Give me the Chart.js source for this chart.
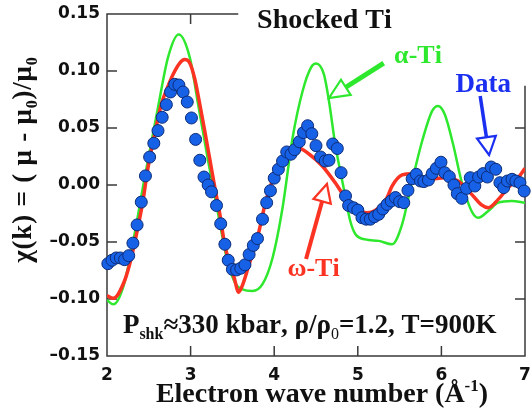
<!DOCTYPE html>
<html>
<head>
<meta charset="utf-8">
<script src="https://cdn.jsdelivr.net/npm/chart.js@4.4.1/dist/chart.umd.min.js"></script>
<style>
  html, body { margin: 0; padding: 0; background: #fff; }
  canvas { display: block; }
</style>
</head>
<body>
<canvas id="chart" width="532" height="420"></canvas>
<script>
// measured EXAFS points (k in 1/Å, chi)
const dataK = [2.01, 2.06, 2.11, 2.16, 2.21, 2.26, 2.31, 2.36, 2.41, 2.46, 2.51, 2.56, 2.61, 2.66, 2.71, 2.76, 2.81, 2.86, 2.91, 2.96, 3.01, 3.06, 3.11, 3.16, 3.21,
  3.25, 3.31, 3.36, 3.41, 3.45, 3.50, 3.55, 3.60, 3.65, 3.70, 3.75, 3.80, 3.86, 3.91, 3.955, 4.00, 4.05, 4.10, 4.15, 4.20, 4.245, 4.30, 4.35, 4.40, 4.45, 4.50, 4.555, 4.61, 4.655, 4.70, 4.755, 4.80, 4.853, 4.89, 4.95, 5.00,
  5.05, 5.10, 5.15, 5.20, 5.25, 5.30, 5.35, 5.40, 5.45, 5.50, 5.55, 5.60, 5.65, 5.70, 5.75,
  5.79, 5.845, 5.89, 5.94, 5.995, 6.04, 6.095, 6.15, 6.19, 6.245, 6.30, 6.345, 6.40, 6.445, 6.50, 6.55, 6.595, 6.65, 6.70, 6.745, 6.79, 6.845, 6.89, 6.94, 6.99];
const dataChi = [-0.069, -0.066, -0.064, -0.064, -0.0655, -0.062, -0.051, -0.035, -0.015, 0.008, 0.0245, 0.0366, 0.0477, 0.0594, 0.0705, 0.0816, 0.0883, 0.0877, 0.0816, 0.0728, 0.0588, 0.040, 0.0217, 0.007, 0.000,
  -0.006, -0.018, -0.034, -0.052, -0.066, -0.074, -0.0745, -0.073, -0.070, -0.061, -0.053, -0.047, -0.030, -0.0155, -0.005, 0.006, 0.0138, 0.021, 0.029, 0.027, 0.031, 0.038, 0.046, 0.052, 0.045, 0.0345, 0.0246, 0.021, 0.0217, 0.036, 0.032, 0.0108, -0.0096, -0.018, -0.020, -0.022,
  -0.0287, -0.030, -0.030, -0.0278, -0.0257, -0.021, -0.017, -0.014, -0.011, -0.0146, -0.0155, -0.0047, 0.0055, 0.0094, 0.0035,
  0.003, 0.0044, 0.010, 0.0146, 0.020, 0.0108, 0.0073, 0.000, -0.0076, -0.0117, -0.003, 0.0064, -0.0009, 0.007, 0.010, 0.007, 0.0158, 0.0138, 0.002, -0.0023, 0.0035, 0.005, 0.0035, 0.002, -0.0053];

// omega-Ti model
const omegaK = [2.00, 2.075, 2.21, 2.29, 2.37, 2.43, 2.49, 2.57, 2.65, 2.73, 2.79, 2.87, 2.93, 2.99, 3.05, 3.11, 3.17, 3.23, 3.29, 3.35,
  3.40, 3.46, 3.52, 3.575, 3.62, 3.70, 3.80, 3.90, 3.96, 4.02, 4.14, 4.28, 4.42, 4.575, 4.73, 4.85, 4.97, 5.11, 5.25, 5.35,
  5.41, 5.53, 5.65, 5.85, 6.04, 6.20, 6.36, 6.48, 6.56, 6.68, 6.80, 6.92, 7.00];
const omegaChi = [-0.097, -0.0994, -0.084, -0.064, -0.037, -0.014, 0.015, 0.0445, 0.0708, 0.0868, 0.097, 0.107, 0.110, 0.107, 0.093, 0.0708, 0.047, 0.0225, -0.0023, -0.0257,
  -0.049, -0.068, -0.081, -0.094, -0.088, -0.0696, -0.046, -0.014, 0.000, 0.0123, 0.027, 0.0327, 0.027, 0.0167, 0.002, -0.011, -0.020, -0.0243, -0.020, -0.011,
  -0.001, 0.0088, 0.0099, 0.005, 0.0064, 0.0035, -0.008, -0.0175, -0.020, -0.0126, -0.0023, 0.0064, 0.0146];

// alpha-Ti model
const alphaK = [2.00, 2.075, 2.20, 2.33, 2.45, 2.61, 2.73, 2.857, 2.99, 3.09, 3.21, 3.33, 3.44, 3.54, 3.62, 3.74, 3.86, 3.98, 4.10, 4.22,
  4.34, 4.44, 4.50, 4.595, 4.655, 4.73, 4.83, 4.91, 4.97, 5.09, 5.25, 5.41, 5.53, 5.65, 5.77, 5.89, 5.96, 6.04, 6.14, 6.24,
  6.36, 6.44, 6.56, 6.68, 6.84, 7.00];
const alphaChi = [-0.101, -0.1047, -0.088, -0.043, 0.0064, 0.068, 0.112, 0.132, 0.112, 0.0708, 0.021, -0.0257, -0.0667, -0.087, -0.0915, -0.093, -0.087, -0.064, -0.020, 0.0415,
  0.0825, 0.103, 0.1065, 0.097, 0.0737, 0.0357, -0.0023, -0.0316, -0.043, -0.0477, -0.049, -0.052, -0.0345, 0.0035, 0.0386, 0.065, 0.0693, 0.062, 0.0357, 0.0035,
  -0.0228, -0.0287, -0.0228, -0.0155, -0.014, -0.0155];

const xTicks = [2, 3, 4, 5, 6, 7];
const xTickLabels = ['2', '3', '4', '5', '6', '7'];
const yTicks = [-0.15, -0.10, -0.05, 0, 0.05, 0.10, 0.15];
const yTickLabels = ['\u20130.15', '\u20130.10', '\u20130.05', '0.00', '0.05', '0.10', '0.15'];

const SERIF = '"Liberation Serif", "Times New Roman", serif';
const SANS = '"DejaVu Sans", sans-serif';
const RED = '#fb3322';
const GREEN = '#2ee82e';
const BLUE_TXT = '#1b2ff0';

const toPoints = (xs, ys) => xs.map((k, i) => ({ x: k, y: ys[i] }));

// draws text made of runs (normal / sub / sup), char by char with optional extra spacing
function drawRich(ctx, parts, x, y, size, color, align, spacing) {
  spacing = spacing || 0;
  const glyphs = [];
  parts.forEach(p => {
    const small = p.sub || p.sup;
    const s = small ? Math.round(size * 0.6) : size;
    const font = (p.light ? '' : 'bold ') + s + 'px ' + SERIF;
    ctx.font = font;
    const dy = p.sub ? size * 0.22 : (p.sup ? -size * 0.38 : 0);
    [...p.t].forEach(c => glyphs.push({ c, font, dy, w: ctx.measureText(c).width }));
  });
  const total = glyphs.reduce((a, g) => a + g.w, 0) + spacing * (glyphs.length - 1);
  let cx = align === 'center' ? x - total / 2 : x;
  ctx.fillStyle = color;
  ctx.textBaseline = 'alphabetic';
  ctx.textAlign = 'left';
  glyphs.forEach(g => {
    ctx.font = g.font;
    ctx.fillText(g.c, cx, y + g.dy);
    cx += g.w + spacing;
  });
}

function hollowArrow(ctx, x0, y0, x1, y1, color, shaftW, headLen, headHalf) {
  const ang = Math.atan2(y1 - y0, x1 - x0);
  const bx = x1 - headLen * Math.cos(ang), by = y1 - headLen * Math.sin(ang);
  ctx.save();
  ctx.strokeStyle = color;
  ctx.lineCap = 'butt';
  ctx.lineWidth = shaftW;
  ctx.beginPath();
  ctx.moveTo(x0, y0);
  ctx.lineTo(bx, by);
  ctx.stroke();
  const nx = -Math.sin(ang), ny = Math.cos(ang);
  ctx.beginPath();
  ctx.moveTo(x1, y1);
  ctx.lineTo(bx + nx * headHalf, by + ny * headHalf);
  ctx.lineTo(bx - nx * headHalf, by - ny * headHalf);
  ctx.closePath();
  ctx.fillStyle = '#fff';
  ctx.fill();
  ctx.lineWidth = 2.2;
  ctx.lineJoin = 'miter';
  ctx.stroke();
  ctx.restore();
}

// axes frame with inward ticks; top line and right line are broken by the labels
const framePlugin = {
  id: 'frame',
  beforeDatasetsDraw(chart) {
    const { ctx, chartArea: a, scales: { x, y } } = chart;
    const topEnd = x.getPixelForValue(3.57);
    const rightStart = y.getPixelForValue(0.087);
    ctx.save();
    ctx.strokeStyle = '#3a3a3a';
    ctx.lineWidth = 1.5;
    ctx.beginPath();
    ctx.moveTo(topEnd, a.top);
    ctx.lineTo(a.left, a.top);
    ctx.lineTo(a.left, a.bottom);
    ctx.lineTo(a.right, a.bottom);
    ctx.lineTo(a.right, rightStart);
    xTicks.slice(1, -1).forEach(v => {
      const px = x.getPixelForValue(v);
      ctx.moveTo(px, a.bottom);
      ctx.lineTo(px, a.bottom - 10);
      if (px < topEnd) {
        ctx.moveTo(px, a.top);
        ctx.lineTo(px, a.top + 10);
      }
    });
    yTicks.slice(1, -1).forEach(v => {
      const py = y.getPixelForValue(v);
      ctx.moveTo(a.left, py);
      ctx.lineTo(a.left + 10, py);
      if (py > rightStart) {
        ctx.moveTo(a.right, py);
        ctx.lineTo(a.right - 10, py);
      }
    });
    ctx.stroke();
    ctx.restore();
  }
};

const labelPlugin = {
  id: 'labels',
  afterDatasetsDraw(chart) {
    const { ctx, scales: { x, y } } = chart;
    const X = v => x.getPixelForValue(v), Y = v => y.getPixelForValue(v);
    ctx.save();
    drawRich(ctx, [{ t: 'Shocked Ti' }], X(4.6), Y(0.138), 28, '#111', 'center');
    drawRich(ctx, [{ t: '\u03b1-Ti' }], X(5.72), Y(0.107), 26, GREEN, 'center');
    drawRich(ctx, [{ t: 'Data' }], X(6.5), Y(0.0816), 27, BLUE_TXT, 'center');
    drawRich(ctx, [{ t: '\u03c9-Ti' }], X(4.47), Y(-0.0798), 26, RED, 'center');
    hollowArrow(ctx, X(5.31), Y(0.107), X(4.655), Y(0.0763), GREEN, 5, 20, 9);
    hollowArrow(ctx, X(6.464), Y(0.078), X(6.571), Y(0.0263), BLUE_TXT, 3.5, 18, 9.5);
    hollowArrow(ctx, X(4.381), Y(-0.0649), X(4.631), Y(0.0009), RED, 4, 18, 9);
    drawRich(ctx, [
      { t: 'P' }, { t: 'shk', sub: true }, { t: '\u2248330 kbar, \u03c1/\u03c1' }, { t: '0', sub: true, light: true },
      { t: '=1.2, T=900K' }
    ], X(2.19), Y(-0.1298), 27, '#111', 'left');
    ctx.restore();
  },
  afterDraw(chart) {
    const { ctx, chartArea: a } = chart;
    ctx.save();
    // x axis title
    drawRich(ctx, [{ t: 'Electron wave number (\u00c5' }, { t: '-1', sup: true }, { t: ')' }],
      (a.left + a.right) / 2 + 6, 402, 28, '#111', 'center');
    // y axis title
    ctx.translate(31, 160);
    ctx.rotate(-Math.PI / 2);
    drawRich(ctx, [{ t: '\u03c7(k) = ( \u03bc - \u03bc' }, { t: '0', sub: true }, { t: ')/\u03bc' }, { t: '0', sub: true }],
      0, 0, 27, '#111', 'center', 0.8);
    ctx.restore();
  }
};

new Chart(document.getElementById('chart'), {
  type: 'scatter',
  data: {
    datasets: [
      {
        label: 'Data',
        data: toPoints(dataK, dataChi),
        pointRadius: 6,
        pointBackgroundColor: '#1761e6',
        pointBorderColor: '#0d2c78',
        pointBorderWidth: 1,
        showLine: false,
        clip: 10
      },
      {
        label: '\u03c9-Ti',
        data: toPoints(omegaK, omegaChi),
        showLine: true,
        pointRadius: 0,
        borderColor: RED,
        borderWidth: 3.5,
        cubicInterpolationMode: 'monotone'
      },
      {
        label: '\u03b1-Ti',
        data: toPoints(alphaK, alphaChi),
        showLine: true,
        pointRadius: 0,
        borderColor: GREEN,
        borderWidth: 2.5,
        cubicInterpolationMode: 'monotone'
      }
    ]
  },
  options: {
    responsive: false,
    animation: false,
    events: [],
    layout: { padding: { left: 0, right: 5, top: 14, bottom: 0 } },
    plugins: { legend: { display: false }, tooltip: { enabled: false } },
    scales: {
      x: {
        type: 'linear',
        min: 2,
        max: 7,
        grid: { display: false, drawTicks: false },
        border: { display: false },
        afterBuildTicks: s => { s.ticks = xTicks.map(v => ({ value: v })); },
        afterFit: s => { s.height = 64; s.paddingLeft = 0; s.paddingRight = 0; },
        ticks: {
          padding: 9,
          maxRotation: 0,
          color: '#111',
          font: { family: SANS, size: 17, weight: 'bold' },
          callback: v => xTickLabels[xTicks.indexOf(v)]
        }
      },
      y: {
        min: -0.15,
        max: 0.15,
        grid: { display: false, drawTicks: false },
        border: { display: false },
        afterBuildTicks: s => { s.ticks = yTicks.map(v => ({ value: v })); },
        afterFit: s => { s.width = 107; s.paddingTop = 0; s.paddingBottom = 0; },
        ticks: {
          padding: 7,
          color: '#111',
          font: { family: SANS, size: 17, weight: 'bold' },
          callback: v => yTickLabels[yTicks.findIndex(t => Math.abs(t - v) < 1e-9)]
        }
      }
    }
  },
  plugins: [framePlugin, labelPlugin]
});
</script>
</body>
</html>
